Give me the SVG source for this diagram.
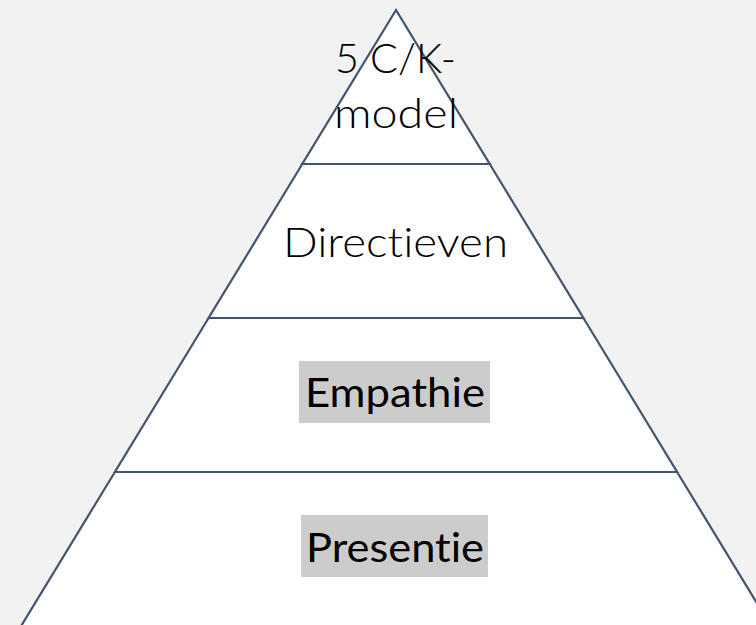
<svg xmlns="http://www.w3.org/2000/svg" width="756" height="625" viewBox="0 0 756 625">
<style>
.tier{fill:#FFFFFF;stroke:#44546A;stroke-width:2.2;stroke-linejoin:miter}
.light{font-family:Lato,"Liberation Sans",sans-serif;font-weight:300;font-size:42px;fill:#000;text-anchor:middle;font-variant-ligatures:none;font-feature-settings:"liga" 0}
.reg{font-family:Lato,"Liberation Sans",sans-serif;font-weight:400;font-size:41px;fill:#000;text-anchor:middle;font-variant-ligatures:none;font-feature-settings:"liga" 0}
.hl{fill:#CCCCCC}
</style>
<rect width="756" height="625" fill="#F2F2F2"/>
<g id="tier4">
<polygon class="tier" points="114.9,472 677.1,472 779.4,640 12.6,640"/>
<rect class="hl" x="301" y="515" width="187" height="62"/>
<text class="reg" x="395" y="562" textLength="178" lengthAdjust="spacingAndGlyphs">Presentie</text>
</g>
<g id="tier3">
<polygon class="tier" points="208.6,318 583.4,318 677.1,472 114.9,472"/>
<rect class="hl" x="299" y="361" width="191" height="62"/>
<text class="reg" x="395" y="407" textLength="180" lengthAdjust="spacingAndGlyphs">Empathie</text>
</g>
<g id="tier2">
<polygon class="tier" points="302.3,164 489.7,164 583.4,318 208.6,318"/>
<text class="light" x="395.5" y="257" textLength="225" lengthAdjust="spacingAndGlyphs">Directieven</text>
</g>
<g id="tier1">
<polygon class="tier" points="396,10 489.7,164 302.3,164"/>
<text class="light" x="395.5" y="73" textLength="121" lengthAdjust="spacingAndGlyphs">5 C/K-</text>
<text class="light" x="396" y="128" textLength="124" lengthAdjust="spacingAndGlyphs">model</text>
</g>
<g id="connectors"/>
</svg>
